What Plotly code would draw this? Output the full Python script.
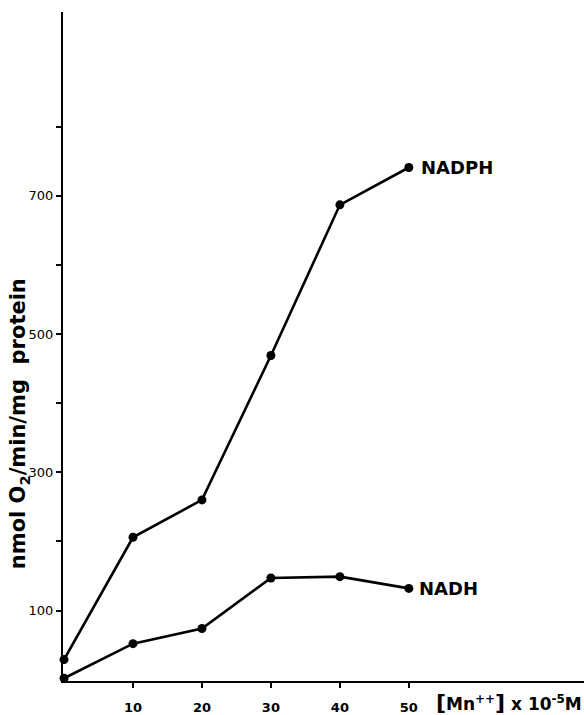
import plotly.graph_objects as go

mn_conc = [0, 10, 20, 30, 40, 50]
nadph = [29, 206, 260, 469, 687, 741]
nadh = [2, 52, 74, 147, 149, 132]

y_ticks = [100, 300, 500, 700]
y_ticktext = ["100", "300", "500", "700"]
y_minor_ticks = [200, 400, 600, 800]
x_ticks = [10, 20, 30, 40, 50]
x_ticktext = ["10", "20", "30", "40", "50"]

FONT = "DejaVu Sans"

fig = go.Figure()
line_style = dict(color="black", width=2.6)
marker_style = dict(color="black", size=9)
fig.add_trace(go.Scatter(x=mn_conc, y=nadph, mode="lines+markers",
                         line=line_style, marker=marker_style, name="NADPH",
                         cliponaxis=False))
fig.add_trace(go.Scatter(x=mn_conc, y=nadh, mode="lines+markers",
                         line=line_style, marker=marker_style, name="NADH",
                         cliponaxis=False))

fig.add_annotation(x=50, y=nadph[-1], xref="x", yref="y", text="<b>NADPH</b>",
                   showarrow=False, xanchor="left", yanchor="middle", xshift=10,
                   font=dict(family=FONT, size=18, color="black"))
fig.add_annotation(x=50, y=nadh[-1], xref="x", yref="y", text="<b>NADH</b>",
                   showarrow=False, xanchor="left", yanchor="middle", xshift=8,
                   font=dict(family=FONT, size=18, color="black"))

# x-axis title, placed below the right end of the axis
fig.add_annotation(x=1.0, y=-0.011, xref="paper", yref="paper",
                   text='<b><span style="font-size:22px">[</span>Mn<sup>++</sup>'
                        '<span style="font-size:22px">]</span> x 10<sup>-5</sup>M</b>',
                   showarrow=False, xanchor="right", yanchor="top",
                   font=dict(family=FONT, size=17, color="black"))

# y-axis title
fig.add_annotation(x=-0.083, y=0.385, xref="paper", yref="paper",
                   text="<b>nmol O<sub>2</sub>/min/mg  protein</b>",
                   textangle=-90, showarrow=False,
                   xanchor="center", yanchor="middle",
                   font=dict(family=FONT, size=21, color="black"))

fig.update_layout(
    width=584, height=715,
    margin=dict(l=63, r=0, t=12, b=31),
    paper_bgcolor="white", plot_bgcolor="white",
    showlegend=False,
    font=dict(family=FONT, color="black"),
    xaxis=dict(range=[-0.15, 75.4], showgrid=False, zeroline=False,
               showline=True, linecolor="black", linewidth=2,
               tickmode="array", tickvals=x_ticks, ticktext=x_ticktext,
               ticks="outside", ticklen=5, tickwidth=1.5, tickcolor="black",
               ticklabelstandoff=8,
               tickfont=dict(family=FONT, size=13, color="black", weight="bold")),
    yaxis=dict(range=[-2, 966], showgrid=False, zeroline=False,
               showline=True, linecolor="black", linewidth=2,
               tickmode="array", tickvals=y_ticks, ticktext=y_ticktext,
               ticks="outside", ticklen=5, tickwidth=1.5, tickcolor="black",
               minor=dict(tickmode="array", tickvals=y_minor_ticks,
                          ticks="outside", ticklen=5, tickwidth=1.5,
                          tickcolor="black", showgrid=False),
               tickfont=dict(family=FONT, size=13, color="black")),
)

fig.write_html("out.html")
